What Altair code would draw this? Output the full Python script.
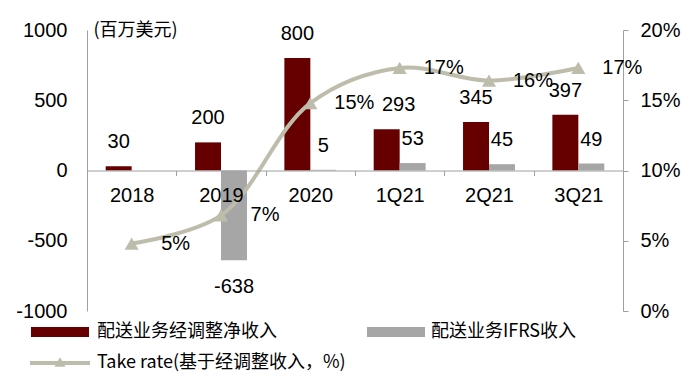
import altair as alt
import pandas as pd

categories = ["2018", "2019", "2020", "1Q21", "2Q21", "3Q21"]
adjusted_rev = [30, 200, 800, 293, 345, 397]
ifrs_rev = [None, -638, 5, 53, 45, 49]
take_rate = [4.8, 6.8, 14.8, 17.3, 16.4, 17.3]
take_rate_labels = ["5%", "7%", "15%", "17%", "16%", "17%"]
series_names = ["配送业务经调整净收入", "配送业务IFRS收入"]
line_name = "Take rate(基于经调整收入，%)"
left_ticks = [-1000, -500, 0, 500, 1000]
right_ticks = [0, 5, 10, 15, 20]

MAROON = "#660000"
GRAY = "#A6A6A6"
LINEC = "#BEBDAB"
AXISC = "#A0A0A0"
FONT = "'Liberation Sans', Arial, sans-serif"
CJK = "'Noto Sans CJK SC', 'Liberation Sans', sans-serif"

rows = []
for c, a, i in zip(categories, adjusted_rev, ifrs_rev):
    rows.append({"cat": c, "series": series_names[0], "value": a})
    if i is not None:
        rows.append({"cat": c, "series": series_names[1], "value": i})
bars_df = pd.DataFrame(rows)
line_df = pd.DataFrame({"cat": categories, "rate": take_rate, "label": take_rate_labels})

x_scale = alt.Scale(domain=categories, paddingInner=0, paddingOuter=0)
x_enc = alt.X("cat:N", sort=categories, scale=x_scale,
              axis=alt.Axis(title=None, labelAngle=0, offset=-140.5, tickBand="extent",
                            tickSize=5, labelPadding=10, labelFontSize=20, labelFont=FONT,
                            domainColor=AXISC, tickColor=AXISC, grid=False, zindex=1))
xoff = alt.XOffset("series:N", scale=alt.Scale(domain=series_names, paddingOuter=0.72, paddingInner=0))
y_left = alt.Y("value:Q", scale=alt.Scale(domain=[-1000, 1000], nice=False),
               axis=alt.Axis(values=left_ticks, ticks=False, labelPadding=20, labelFontSize=20,
                             labelExpr="toString(datum.value)", labelFont=FONT,
                             domainColor=AXISC, grid=False, title="(百万美元)", titleAngle=0,
                             titleX=6, titleY=0, titleAlign="left", titleBaseline="middle",
                             titleFontSize=18, titleFontWeight="normal", titleFont=CJK))
color = alt.Color("series:N", scale=alt.Scale(domain=series_names, range=[MAROON, GRAY]), legend=None)

base_b = alt.Chart(bars_df).transform_calculate(txt="toString(datum.value)")
bars = base_b.mark_bar().encode(x=x_enc, xOffset=xoff, y=y_left, color=color)
pos_text = base_b.transform_filter(
    "datum.value >= 0 && !(datum.cat == '1Q21' && datum.value == 293)").mark_text(
    dy=-24, baseline="middle", fontSize=20, color="black", font=FONT).encode(
    x=x_enc, xOffset=xoff, y=alt.Y("value:Q"), text="txt:N")
shift_text = base_b.transform_filter(
    "datum.cat == '1Q21' && datum.value == 293").mark_text(
    dy=-24, dx=12, baseline="middle", fontSize=20, color="black", font=FONT).encode(
    x=x_enc, xOffset=xoff, y=alt.Y("value:Q"), text="txt:N")
neg_text = base_b.transform_filter("datum.value < 0").mark_text(
    dy=27, baseline="middle", fontSize=20, color="black", font=FONT).encode(
    x=x_enc, xOffset=xoff, y=alt.Y("value:Q"), text="txt:N")
bar_layer = alt.layer(bars, pos_text, shift_text, neg_text)

y_right = alt.Y("rate:Q", scale=alt.Scale(domain=[0, 20], nice=False),
                axis=alt.Axis(orient="right", values=right_ticks, labelExpr="datum.value + '%'",
                              title=None, tickSize=5, labelPadding=12, labelFontSize=20, labelFont=FONT,
                              domainColor=AXISC, tickColor=AXISC, grid=False))
base_l = alt.Chart(line_df)
line = base_l.mark_line(interpolate="catmull-rom", color=LINEC, strokeWidth=4).encode(x=x_enc, y=y_right)
pts = base_l.mark_point(shape="triangle-up", filled=True, size=200, color=LINEC, opacity=1).encode(
    x=x_enc, y=alt.Y("rate:Q"))
ltext = base_l.mark_text(dx=44, baseline="middle", fontSize=20, color="black", font=FONT).encode(
    x=x_enc, y=alt.Y("rate:Q"), text="label:N")
line_layer = alt.layer(line, pts, ltext)

one = pd.DataFrame({"k": [0]})
lg = alt.Chart(one)
sw1 = lg.mark_rect(color=MAROON).encode(x=alt.value(-56), x2=alt.value(2), y=alt.value(297), y2=alt.value(307))
tx1 = lg.mark_text(align="left", baseline="middle", fontSize=18, font=CJK, color="black").encode(
    x=alt.value(10), y=alt.value(302), text=alt.value(series_names[0]))
sw2 = lg.mark_rect(color=GRAY).encode(x=alt.value(280), x2=alt.value(338), y=alt.value(297), y2=alt.value(307))
tx2 = lg.mark_text(align="left", baseline="middle", fontSize=18, font=CJK, color="black").encode(
    x=alt.value(344), y=alt.value(302), text=alt.value(series_names[1]))
lr = lg.mark_rule(color=LINEC, strokeWidth=4).encode(x=alt.value(-57), x2=alt.value(3), y=alt.value(333))
lp = lg.mark_point(shape="triangle-up", filled=True, size=120, color=LINEC, opacity=1).encode(
    x=alt.value(-27), y=alt.value(332))
tx3 = lg.mark_text(align="left", baseline="middle", fontSize=18, font=CJK, color="black").encode(
    x=alt.value(10), y=alt.value(333), text=alt.value(line_name))

chart = alt.layer(bar_layer, line_layer, sw1, tx1, sw2, tx2, lr, lp, tx3).resolve_scale(
    y="independent").properties(
    width=536, height=281,
    padding={"left": 79, "top": 22, "right": 60, "bottom": 72},
    autosize=alt.AutoSizeParams(type="none"),
).configure_view(stroke=None).configure_axis(
    labelColor="black", titleColor="black"
)

chart.save("out.html", embed_options={"renderer": "svg", "actions": False})
